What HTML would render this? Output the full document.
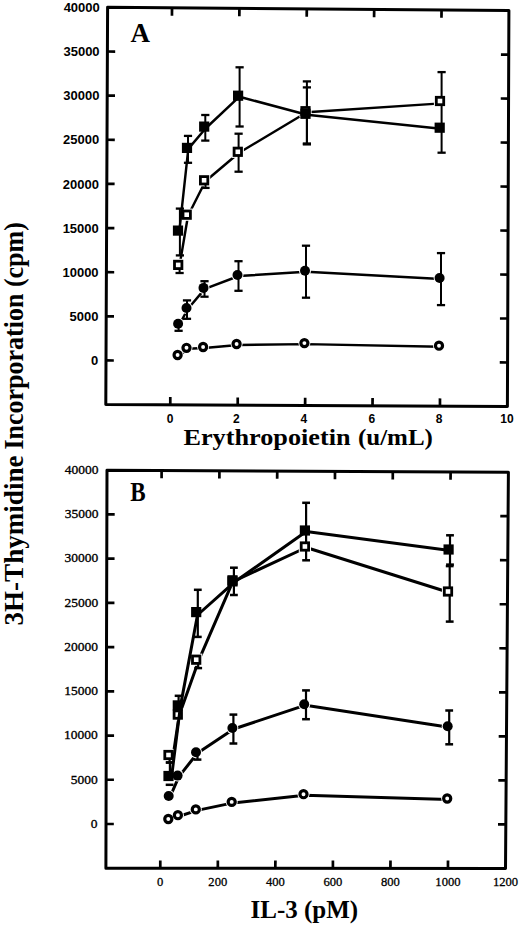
<!DOCTYPE html>
<html><head><meta charset="utf-8"><style>
html,body{margin:0;padding:0;background:#fff;}
svg{display:block;}
.ya{font:bold 13px "Liberation Sans",sans-serif;}
.xa{font:bold 12px "Liberation Sans",sans-serif;}
.yb{font:13.5px "Liberation Serif",serif;stroke:#000;stroke-width:0.35px;}
.xb{font:12.6px "Liberation Serif",serif;stroke:#000;stroke-width:0.3px;}
.t{font-family:"Liberation Serif",serif;font-weight:bold;}
</style></head><body>
<svg width="520" height="928" viewBox="0 0 520 928">
<rect width="520" height="928" fill="#fff"/>
<g stroke="#000" fill="none">
<polygon points="107.60,7.35 508.90,10.60 507.40,406.50 105.80,404.60" fill="none" stroke="#000" stroke-width="3.0" stroke-linejoin="round"/>
<polygon points="107.00,470.20 508.40,472.20 505.50,868.40 105.90,868.20" fill="none" stroke="#000" stroke-width="3.0" stroke-linejoin="round"/>
<line x1="172.01" y1="7.87" x2="171.98" y2="15.67" stroke-width="2.7" stroke-linecap="butt"/>
<line x1="170.26" y1="404.90" x2="170.30" y2="397.11" stroke-width="2.7" stroke-linecap="butt"/>
<line x1="239.39" y1="8.42" x2="239.36" y2="16.22" stroke-width="2.7" stroke-linecap="butt"/>
<line x1="237.69" y1="405.22" x2="237.72" y2="397.42" stroke-width="2.7" stroke-linecap="butt"/>
<line x1="306.77" y1="8.96" x2="306.74" y2="16.76" stroke-width="2.7" stroke-linecap="butt"/>
<line x1="305.12" y1="405.54" x2="305.15" y2="397.74" stroke-width="2.7" stroke-linecap="butt"/>
<line x1="374.15" y1="9.51" x2="374.11" y2="17.31" stroke-width="2.7" stroke-linecap="butt"/>
<line x1="372.54" y1="405.86" x2="372.58" y2="398.06" stroke-width="2.7" stroke-linecap="butt"/>
<line x1="441.52" y1="10.05" x2="441.49" y2="17.85" stroke-width="2.7" stroke-linecap="butt"/>
<line x1="439.97" y1="406.18" x2="440.00" y2="398.38" stroke-width="2.7" stroke-linecap="butt"/>
<line x1="107.40" y1="51.49" x2="115.20" y2="51.55" stroke-width="2.7" stroke-linecap="butt"/>
<line x1="508.73" y1="54.59" x2="500.93" y2="54.53" stroke-width="2.7" stroke-linecap="butt"/>
<line x1="107.20" y1="95.63" x2="115.00" y2="95.69" stroke-width="2.7" stroke-linecap="butt"/>
<line x1="508.57" y1="98.58" x2="500.77" y2="98.52" stroke-width="2.7" stroke-linecap="butt"/>
<line x1="107.00" y1="139.77" x2="114.80" y2="139.82" stroke-width="2.7" stroke-linecap="butt"/>
<line x1="508.40" y1="142.57" x2="500.60" y2="142.51" stroke-width="2.7" stroke-linecap="butt"/>
<line x1="106.80" y1="183.91" x2="114.60" y2="183.96" stroke-width="2.7" stroke-linecap="butt"/>
<line x1="508.23" y1="186.56" x2="500.43" y2="186.50" stroke-width="2.7" stroke-linecap="butt"/>
<line x1="106.60" y1="228.04" x2="114.40" y2="228.09" stroke-width="2.7" stroke-linecap="butt"/>
<line x1="508.07" y1="230.54" x2="500.27" y2="230.50" stroke-width="2.7" stroke-linecap="butt"/>
<line x1="106.40" y1="272.18" x2="114.20" y2="272.23" stroke-width="2.7" stroke-linecap="butt"/>
<line x1="507.90" y1="274.53" x2="500.10" y2="274.49" stroke-width="2.7" stroke-linecap="butt"/>
<line x1="106.20" y1="316.32" x2="114.00" y2="316.36" stroke-width="2.7" stroke-linecap="butt"/>
<line x1="507.73" y1="318.52" x2="499.93" y2="318.48" stroke-width="2.7" stroke-linecap="butt"/>
<line x1="106.00" y1="360.46" x2="113.80" y2="360.50" stroke-width="2.7" stroke-linecap="butt"/>
<line x1="507.57" y1="362.51" x2="499.77" y2="362.47" stroke-width="2.7" stroke-linecap="butt"/>
<line x1="161.62" y1="470.47" x2="161.59" y2="478.27" stroke-width="2.7" stroke-linecap="butt"/>
<line x1="160.27" y1="868.23" x2="160.30" y2="860.43" stroke-width="2.7" stroke-linecap="butt"/>
<line x1="219.42" y1="470.76" x2="219.38" y2="478.56" stroke-width="2.7" stroke-linecap="butt"/>
<line x1="217.81" y1="868.26" x2="217.84" y2="860.46" stroke-width="2.7" stroke-linecap="butt"/>
<line x1="277.21" y1="471.05" x2="277.18" y2="478.85" stroke-width="2.7" stroke-linecap="butt"/>
<line x1="275.35" y1="868.28" x2="275.39" y2="860.48" stroke-width="2.7" stroke-linecap="butt"/>
<line x1="335.01" y1="471.34" x2="334.97" y2="479.14" stroke-width="2.7" stroke-linecap="butt"/>
<line x1="332.89" y1="868.31" x2="332.93" y2="860.51" stroke-width="2.7" stroke-linecap="butt"/>
<line x1="392.81" y1="471.62" x2="392.76" y2="479.42" stroke-width="2.7" stroke-linecap="butt"/>
<line x1="390.42" y1="868.34" x2="390.47" y2="860.54" stroke-width="2.7" stroke-linecap="butt"/>
<line x1="450.60" y1="471.91" x2="450.55" y2="479.71" stroke-width="2.7" stroke-linecap="butt"/>
<line x1="447.96" y1="868.37" x2="448.01" y2="860.57" stroke-width="2.7" stroke-linecap="butt"/>
<line x1="106.88" y1="514.42" x2="114.68" y2="514.46" stroke-width="2.7" stroke-linecap="butt"/>
<line x1="508.08" y1="516.22" x2="500.28" y2="516.19" stroke-width="2.7" stroke-linecap="butt"/>
<line x1="106.76" y1="558.64" x2="114.56" y2="558.68" stroke-width="2.7" stroke-linecap="butt"/>
<line x1="507.76" y1="560.24" x2="499.96" y2="560.21" stroke-width="2.7" stroke-linecap="butt"/>
<line x1="106.63" y1="602.87" x2="114.43" y2="602.89" stroke-width="2.7" stroke-linecap="butt"/>
<line x1="507.43" y1="604.27" x2="499.63" y2="604.24" stroke-width="2.7" stroke-linecap="butt"/>
<line x1="106.51" y1="647.09" x2="114.31" y2="647.11" stroke-width="2.7" stroke-linecap="butt"/>
<line x1="507.11" y1="648.29" x2="499.31" y2="648.27" stroke-width="2.7" stroke-linecap="butt"/>
<line x1="106.39" y1="691.31" x2="114.19" y2="691.33" stroke-width="2.7" stroke-linecap="butt"/>
<line x1="506.79" y1="692.31" x2="498.99" y2="692.29" stroke-width="2.7" stroke-linecap="butt"/>
<line x1="106.27" y1="735.53" x2="114.07" y2="735.55" stroke-width="2.7" stroke-linecap="butt"/>
<line x1="506.47" y1="736.33" x2="498.67" y2="736.32" stroke-width="2.7" stroke-linecap="butt"/>
<line x1="106.14" y1="779.76" x2="113.94" y2="779.77" stroke-width="2.7" stroke-linecap="butt"/>
<line x1="506.14" y1="780.36" x2="498.34" y2="780.34" stroke-width="2.7" stroke-linecap="butt"/>
<line x1="106.02" y1="823.98" x2="113.82" y2="823.99" stroke-width="2.7" stroke-linecap="butt"/>
<line x1="505.82" y1="824.38" x2="498.02" y2="824.37" stroke-width="2.7" stroke-linecap="butt"/>
</g>
<g stroke="#000">
<polyline points="178.90,356.00 187.80,348.80 204.40,348.00 237.90,345.00 305.70,344.10 440.30,346.70" fill="none" stroke="#000" stroke-width="2.45" stroke-linejoin="round"/>
<polyline points="179.40,324.70 187.80,309.00 204.80,288.90 238.80,276.00 306.30,271.80 440.90,279.00" fill="none" stroke="#000" stroke-width="2.45" stroke-linejoin="round"/>
<polyline points="179.50,265.90 188.00,215.70 205.40,181.30 239.10,152.80 306.80,112.20 441.30,103.40" fill="none" stroke="#000" stroke-width="2.45" stroke-linejoin="round"/>
<circle cx="177.60" cy="355.00" r="6.00" fill="#fff" stroke="none"/>
<circle cx="186.50" cy="347.80" r="6.00" fill="#fff" stroke="none"/>
<circle cx="203.10" cy="347.00" r="6.00" fill="#fff" stroke="none"/>
<circle cx="236.60" cy="344.00" r="6.00" fill="#fff" stroke="none"/>
<circle cx="304.40" cy="343.10" r="6.00" fill="#fff" stroke="none"/>
<circle cx="439.00" cy="345.70" r="6.00" fill="#fff" stroke="none"/>
<circle cx="178.10" cy="323.70" r="6.00" fill="#fff" stroke="none"/>
<circle cx="186.50" cy="308.00" r="6.00" fill="#fff" stroke="none"/>
<circle cx="203.50" cy="287.90" r="6.00" fill="#fff" stroke="none"/>
<circle cx="237.50" cy="275.00" r="6.00" fill="#fff" stroke="none"/>
<circle cx="305.00" cy="270.80" r="6.00" fill="#fff" stroke="none"/>
<circle cx="439.60" cy="278.00" r="6.00" fill="#fff" stroke="none"/>
<rect x="172.10" y="258.80" width="12.20" height="12.20" fill="#fff" stroke="none"/>
<rect x="180.60" y="208.60" width="12.20" height="12.20" fill="#fff" stroke="none"/>
<rect x="198.00" y="174.20" width="12.20" height="12.20" fill="#fff" stroke="none"/>
<rect x="231.70" y="145.70" width="12.20" height="12.20" fill="#fff" stroke="none"/>
<rect x="299.40" y="105.10" width="12.20" height="12.20" fill="#fff" stroke="none"/>
<rect x="433.90" y="94.90" width="12.20" height="12.20" fill="#fff" stroke="none"/>
<line x1="179.90" y1="208.60" x2="179.90" y2="255.40" stroke-width="2.0"/>
<line x1="175.80" y1="208.60" x2="184.00" y2="208.60" stroke-width="2.3"/>
<line x1="175.80" y1="255.40" x2="184.00" y2="255.40" stroke-width="2.3"/>
<line x1="179.60" y1="265.00" x2="179.60" y2="273.00" stroke-width="2.0"/>
<line x1="175.50" y1="273.00" x2="183.70" y2="273.00" stroke-width="2.3"/>
<line x1="188.00" y1="135.90" x2="188.00" y2="162.80" stroke-width="2.0"/>
<line x1="183.90" y1="135.90" x2="192.10" y2="135.90" stroke-width="2.3"/>
<line x1="183.90" y1="162.80" x2="192.10" y2="162.80" stroke-width="2.3"/>
<line x1="205.30" y1="115.00" x2="205.30" y2="140.60" stroke-width="2.0"/>
<line x1="201.20" y1="115.00" x2="209.40" y2="115.00" stroke-width="2.3"/>
<line x1="201.20" y1="140.60" x2="209.40" y2="140.60" stroke-width="2.3"/>
<line x1="239.60" y1="67.30" x2="239.60" y2="126.50" stroke-width="2.0"/>
<line x1="235.50" y1="67.30" x2="243.70" y2="67.30" stroke-width="2.3"/>
<line x1="235.50" y1="126.50" x2="243.70" y2="126.50" stroke-width="2.3"/>
<line x1="238.60" y1="133.70" x2="238.60" y2="171.70" stroke-width="2.0"/>
<line x1="234.50" y1="133.70" x2="242.70" y2="133.70" stroke-width="2.3"/>
<line x1="234.50" y1="171.70" x2="242.70" y2="171.70" stroke-width="2.3"/>
<line x1="306.90" y1="81.40" x2="306.90" y2="143.50" stroke-width="2.0"/>
<line x1="302.80" y1="81.40" x2="311.00" y2="81.40" stroke-width="2.3"/>
<line x1="302.80" y1="143.50" x2="311.00" y2="143.50" stroke-width="2.3"/>
<line x1="306.90" y1="87.40" x2="306.90" y2="144.40" stroke-width="2.0"/>
<line x1="302.80" y1="87.40" x2="311.00" y2="87.40" stroke-width="2.3"/>
<line x1="302.80" y1="144.40" x2="311.00" y2="144.40" stroke-width="2.3"/>
<line x1="441.60" y1="72.10" x2="441.60" y2="152.70" stroke-width="2.0"/>
<line x1="437.50" y1="72.10" x2="445.70" y2="72.10" stroke-width="2.3"/>
<line x1="437.50" y1="152.70" x2="445.70" y2="152.70" stroke-width="2.3"/>
<line x1="205.50" y1="180.00" x2="205.50" y2="187.90" stroke-width="2.0"/>
<line x1="201.40" y1="187.90" x2="209.60" y2="187.90" stroke-width="2.3"/>
<line x1="178.60" y1="324.00" x2="178.60" y2="330.80" stroke-width="2.0"/>
<line x1="174.50" y1="330.80" x2="182.70" y2="330.80" stroke-width="2.3"/>
<line x1="187.00" y1="300.40" x2="187.00" y2="318.80" stroke-width="2.0"/>
<line x1="182.90" y1="300.40" x2="191.10" y2="300.40" stroke-width="2.3"/>
<line x1="182.90" y1="318.80" x2="191.10" y2="318.80" stroke-width="2.3"/>
<line x1="204.50" y1="281.20" x2="204.50" y2="296.70" stroke-width="2.0"/>
<line x1="200.40" y1="281.20" x2="208.60" y2="281.20" stroke-width="2.3"/>
<line x1="200.40" y1="296.70" x2="208.60" y2="296.70" stroke-width="2.3"/>
<line x1="238.50" y1="261.20" x2="238.50" y2="290.80" stroke-width="2.0"/>
<line x1="234.40" y1="261.20" x2="242.60" y2="261.20" stroke-width="2.3"/>
<line x1="234.40" y1="290.80" x2="242.60" y2="290.80" stroke-width="2.3"/>
<line x1="306.00" y1="245.70" x2="306.00" y2="297.70" stroke-width="2.0"/>
<line x1="301.90" y1="245.70" x2="310.10" y2="245.70" stroke-width="2.3"/>
<line x1="301.90" y1="297.70" x2="310.10" y2="297.70" stroke-width="2.3"/>
<line x1="441.00" y1="253.10" x2="441.00" y2="305.10" stroke-width="2.0"/>
<line x1="436.90" y1="253.10" x2="445.10" y2="253.10" stroke-width="2.3"/>
<line x1="436.90" y1="305.10" x2="445.10" y2="305.10" stroke-width="2.3"/>
<circle cx="177.60" cy="355.00" r="3.55" fill="#fff" stroke="#000" stroke-width="3.2"/>
<circle cx="186.50" cy="347.80" r="3.55" fill="#fff" stroke="#000" stroke-width="3.2"/>
<circle cx="203.10" cy="347.00" r="3.55" fill="#fff" stroke="#000" stroke-width="3.2"/>
<circle cx="236.60" cy="344.00" r="3.55" fill="#fff" stroke="#000" stroke-width="3.2"/>
<circle cx="304.40" cy="343.10" r="3.55" fill="#fff" stroke="#000" stroke-width="3.2"/>
<circle cx="439.00" cy="345.70" r="3.55" fill="#fff" stroke="#000" stroke-width="3.2"/>
<circle cx="178.10" cy="323.70" r="5.0" fill="#000" stroke="none"/>
<circle cx="186.50" cy="308.00" r="5.0" fill="#000" stroke="none"/>
<circle cx="203.50" cy="287.90" r="5.0" fill="#000" stroke="none"/>
<circle cx="237.50" cy="275.00" r="5.0" fill="#000" stroke="none"/>
<circle cx="305.00" cy="270.80" r="5.0" fill="#000" stroke="none"/>
<circle cx="439.60" cy="278.00" r="5.0" fill="#000" stroke="none"/>
<rect x="174.50" y="261.20" width="7.40" height="7.40" fill="#fff" stroke="#000" stroke-width="2.8"/>
<rect x="183.00" y="211.00" width="7.40" height="7.40" fill="#fff" stroke="#000" stroke-width="2.8"/>
<rect x="200.40" y="176.60" width="7.40" height="7.40" fill="#fff" stroke="#000" stroke-width="2.8"/>
<rect x="234.10" y="148.10" width="7.40" height="7.40" fill="#fff" stroke="#000" stroke-width="2.8"/>
<rect x="301.80" y="107.50" width="7.40" height="7.40" fill="#fff" stroke="#000" stroke-width="2.8"/>
<rect x="436.30" y="97.30" width="7.40" height="7.40" fill="#fff" stroke="#000" stroke-width="2.8"/>
<polyline points="179.30,231.60 188.30,148.90 205.50,128.50 239.40,96.70 306.80,114.80 441.00,128.70" fill="none" stroke="#000" stroke-width="2.45" stroke-linejoin="round"/>
<rect x="172.90" y="225.50" width="10.2" height="10.2" fill="#000" stroke="none"/>
<rect x="181.90" y="142.80" width="10.2" height="10.2" fill="#000" stroke="none"/>
<rect x="199.10" y="121.50" width="10.2" height="10.2" fill="#000" stroke="none"/>
<rect x="233.00" y="90.60" width="10.2" height="10.2" fill="#000" stroke="none"/>
<rect x="300.40" y="108.70" width="10.2" height="10.2" fill="#000" stroke="none"/>
<rect x="434.60" y="122.60" width="10.2" height="10.2" fill="#000" stroke="none"/>
<polyline points="169.60,820.00 179.20,816.20 197.10,810.40 233.00,802.90 304.80,795.20 448.50,799.50" fill="none" stroke="#000" stroke-width="3.0" stroke-linejoin="round"/>
<polyline points="170.00,797.00 178.90,776.60 197.30,753.30 233.70,729.00 305.50,705.20 449.00,727.20" fill="none" stroke="#000" stroke-width="3.0" stroke-linejoin="round"/>
<polyline points="173.20,755.50 179.10,715.60 198.60,660.70 232.80,581.60 306.20,547.50 449.30,592.50" fill="none" stroke="#000" stroke-width="3.0" stroke-linejoin="round"/>
<circle cx="168.30" cy="819.00" r="6.00" fill="#fff" stroke="none"/>
<circle cx="177.90" cy="815.20" r="6.00" fill="#fff" stroke="none"/>
<circle cx="195.80" cy="809.40" r="6.00" fill="#fff" stroke="none"/>
<circle cx="231.70" cy="801.90" r="6.00" fill="#fff" stroke="none"/>
<circle cx="303.50" cy="794.20" r="6.00" fill="#fff" stroke="none"/>
<circle cx="447.20" cy="798.50" r="6.00" fill="#fff" stroke="none"/>
<circle cx="168.70" cy="796.00" r="6.00" fill="#fff" stroke="none"/>
<circle cx="177.60" cy="775.60" r="6.00" fill="#fff" stroke="none"/>
<circle cx="196.00" cy="752.30" r="6.00" fill="#fff" stroke="none"/>
<circle cx="232.40" cy="728.00" r="6.00" fill="#fff" stroke="none"/>
<circle cx="304.20" cy="704.20" r="6.00" fill="#fff" stroke="none"/>
<circle cx="447.70" cy="726.20" r="6.00" fill="#fff" stroke="none"/>
<rect x="162.40" y="748.90" width="12.20" height="12.20" fill="#fff" stroke="none"/>
<rect x="171.70" y="708.50" width="12.20" height="12.20" fill="#fff" stroke="none"/>
<rect x="190.10" y="653.60" width="12.20" height="12.20" fill="#fff" stroke="none"/>
<rect x="226.40" y="574.20" width="12.20" height="12.20" fill="#fff" stroke="none"/>
<rect x="298.80" y="540.40" width="12.20" height="12.20" fill="#fff" stroke="none"/>
<rect x="441.90" y="585.40" width="12.20" height="12.20" fill="#fff" stroke="none"/>
<line x1="169.90" y1="762.50" x2="169.90" y2="771.00" stroke-width="2.2"/>
<line x1="166.00" y1="762.50" x2="173.80" y2="762.50" stroke-width="2.5"/>
<line x1="165.70" y1="784.80" x2="173.50" y2="784.80" stroke-width="2.5"/>
<line x1="169.60" y1="755.00" x2="169.60" y2="762.50" stroke-width="2.2"/>
<line x1="165.70" y1="762.50" x2="173.50" y2="762.50" stroke-width="2.5"/>
<line x1="178.60" y1="695.80" x2="178.60" y2="705.00" stroke-width="2.2"/>
<line x1="174.70" y1="695.80" x2="182.50" y2="695.80" stroke-width="2.5"/>
<line x1="197.80" y1="589.80" x2="197.80" y2="636.90" stroke-width="2.2"/>
<line x1="193.90" y1="589.80" x2="201.70" y2="589.80" stroke-width="2.5"/>
<line x1="193.90" y1="636.90" x2="201.70" y2="636.90" stroke-width="2.5"/>
<line x1="198.20" y1="660.00" x2="198.20" y2="668.10" stroke-width="2.2"/>
<line x1="194.30" y1="668.10" x2="202.10" y2="668.10" stroke-width="2.5"/>
<line x1="233.90" y1="567.70" x2="233.90" y2="595.00" stroke-width="2.2"/>
<line x1="230.00" y1="567.70" x2="237.80" y2="567.70" stroke-width="2.5"/>
<line x1="230.00" y1="595.00" x2="237.80" y2="595.00" stroke-width="2.5"/>
<line x1="306.10" y1="502.80" x2="306.10" y2="560.30" stroke-width="2.2"/>
<line x1="302.20" y1="502.80" x2="310.00" y2="502.80" stroke-width="2.5"/>
<line x1="302.20" y1="560.30" x2="310.00" y2="560.30" stroke-width="2.5"/>
<line x1="450.00" y1="535.30" x2="450.00" y2="564.60" stroke-width="2.2"/>
<line x1="446.10" y1="535.30" x2="453.90" y2="535.30" stroke-width="2.5"/>
<line x1="446.10" y1="564.60" x2="453.90" y2="564.60" stroke-width="2.5"/>
<line x1="449.70" y1="566.10" x2="449.70" y2="621.60" stroke-width="2.2"/>
<line x1="445.80" y1="566.10" x2="453.60" y2="566.10" stroke-width="2.5"/>
<line x1="445.80" y1="621.60" x2="453.60" y2="621.60" stroke-width="2.5"/>
<line x1="197.50" y1="752.00" x2="197.50" y2="759.60" stroke-width="2.2"/>
<line x1="193.60" y1="759.60" x2="201.40" y2="759.60" stroke-width="2.5"/>
<line x1="233.40" y1="714.60" x2="233.40" y2="743.50" stroke-width="2.2"/>
<line x1="229.50" y1="714.60" x2="237.30" y2="714.60" stroke-width="2.5"/>
<line x1="229.50" y1="743.50" x2="237.30" y2="743.50" stroke-width="2.5"/>
<line x1="306.00" y1="690.40" x2="306.00" y2="719.20" stroke-width="2.2"/>
<line x1="302.10" y1="690.40" x2="309.90" y2="690.40" stroke-width="2.5"/>
<line x1="302.10" y1="719.20" x2="309.90" y2="719.20" stroke-width="2.5"/>
<line x1="449.20" y1="710.50" x2="449.20" y2="744.30" stroke-width="2.2"/>
<line x1="445.30" y1="710.50" x2="453.10" y2="710.50" stroke-width="2.5"/>
<line x1="445.30" y1="744.30" x2="453.10" y2="744.30" stroke-width="2.5"/>
<circle cx="168.30" cy="819.00" r="3.55" fill="#fff" stroke="#000" stroke-width="3.2"/>
<circle cx="177.90" cy="815.20" r="3.55" fill="#fff" stroke="#000" stroke-width="3.2"/>
<circle cx="195.80" cy="809.40" r="3.55" fill="#fff" stroke="#000" stroke-width="3.2"/>
<circle cx="231.70" cy="801.90" r="3.55" fill="#fff" stroke="#000" stroke-width="3.2"/>
<circle cx="303.50" cy="794.20" r="3.55" fill="#fff" stroke="#000" stroke-width="3.2"/>
<circle cx="447.20" cy="798.50" r="3.55" fill="#fff" stroke="#000" stroke-width="3.2"/>
<circle cx="168.70" cy="796.00" r="5.0" fill="#000" stroke="none"/>
<circle cx="177.60" cy="775.60" r="5.0" fill="#000" stroke="none"/>
<circle cx="196.00" cy="752.30" r="5.0" fill="#000" stroke="none"/>
<circle cx="232.40" cy="728.00" r="5.0" fill="#000" stroke="none"/>
<circle cx="304.20" cy="704.20" r="5.0" fill="#000" stroke="none"/>
<circle cx="447.70" cy="726.20" r="5.0" fill="#000" stroke="none"/>
<rect x="164.80" y="751.30" width="7.40" height="7.40" fill="#fff" stroke="#000" stroke-width="2.8"/>
<rect x="174.10" y="710.90" width="7.40" height="7.40" fill="#fff" stroke="#000" stroke-width="2.8"/>
<rect x="192.50" y="656.00" width="7.40" height="7.40" fill="#fff" stroke="#000" stroke-width="2.8"/>
<rect x="228.80" y="576.60" width="7.40" height="7.40" fill="#fff" stroke="#000" stroke-width="2.8"/>
<rect x="301.20" y="542.80" width="7.40" height="7.40" fill="#fff" stroke="#000" stroke-width="2.8"/>
<rect x="444.30" y="587.80" width="7.40" height="7.40" fill="#fff" stroke="#000" stroke-width="2.8"/>
<polyline points="171.60,776.50 180.40,706.40 197.50,615.00 233.80,582.60 306.20,531.50 449.90,550.50" fill="none" stroke="#000" stroke-width="3.0" stroke-linejoin="round"/>
<rect x="163.40" y="770.90" width="10.2" height="10.2" fill="#000" stroke="none"/>
<rect x="172.70" y="700.30" width="10.2" height="10.2" fill="#000" stroke="none"/>
<rect x="191.10" y="607.00" width="10.2" height="10.2" fill="#000" stroke="none"/>
<rect x="227.40" y="576.30" width="10.2" height="10.2" fill="#000" stroke="none"/>
<rect x="299.80" y="525.40" width="10.2" height="10.2" fill="#000" stroke="none"/>
<rect x="443.50" y="544.40" width="10.2" height="10.2" fill="#000" stroke="none"/>
</g>
<g fill="#000">
<text x="99.80" y="12.05" text-anchor="end" class="ya">40000</text>
<text x="99.60" y="56.19" text-anchor="end" class="ya">35000</text>
<text x="99.40" y="100.33" text-anchor="end" class="ya">30000</text>
<text x="99.20" y="144.47" text-anchor="end" class="ya">25000</text>
<text x="99.00" y="188.61" text-anchor="end" class="ya">20000</text>
<text x="98.81" y="232.74" text-anchor="end" class="ya">15000</text>
<text x="98.61" y="276.88" text-anchor="end" class="ya">10000</text>
<text x="98.41" y="321.02" text-anchor="end" class="ya">5000</text>
<text x="98.21" y="365.16" text-anchor="end" class="ya">0</text>
<text x="170.06" y="423.4" text-anchor="middle" class="xa">0</text>
<text x="236.39" y="423.4" text-anchor="middle" class="xa">2</text>
<text x="303.82" y="423.4" text-anchor="middle" class="xa">4</text>
<text x="371.94" y="423.4" text-anchor="middle" class="xa">6</text>
<text x="439.07" y="423.4" text-anchor="middle" class="xa">8</text>
<text x="506.90" y="423.4" text-anchor="middle" class="xa">10</text>
<text x="98.50" y="474.00" text-anchor="end" class="yb">40000</text>
<text x="98.38" y="518.22" text-anchor="end" class="yb">35000</text>
<text x="98.25" y="562.44" text-anchor="end" class="yb">30000</text>
<text x="98.13" y="606.67" text-anchor="end" class="yb">25000</text>
<text x="98.00" y="650.89" text-anchor="end" class="yb">20000</text>
<text x="97.88" y="695.11" text-anchor="end" class="yb">15000</text>
<text x="97.76" y="739.33" text-anchor="end" class="yb">10000</text>
<text x="97.63" y="783.56" text-anchor="end" class="yb">5000</text>
<text x="97.51" y="827.78" text-anchor="end" class="yb">0</text>
<text x="160.27" y="885.8" text-anchor="middle" class="xb">0</text>
<text x="217.81" y="885.8" text-anchor="middle" class="xb">200</text>
<text x="275.35" y="885.8" text-anchor="middle" class="xb">400</text>
<text x="332.89" y="885.8" text-anchor="middle" class="xb">600</text>
<text x="390.42" y="885.8" text-anchor="middle" class="xb">800</text>
<text x="447.96" y="885.8" text-anchor="middle" class="xb">1000</text>
<text x="505.50" y="885.8" text-anchor="middle" class="xb">1200</text>
<text class="t" x="130.6" y="42.2" font-size="27">A</text>
<text class="t" x="0" y="0" font-size="26.5" transform="translate(130.2 501.2) scale(0.87 1)">B</text>
<text class="t" x="0" y="0" font-size="23.5" transform="translate(183.4 445) scale(1.117 1)">Erythropoietin</text>
<text class="t" x="0" y="0" font-size="23.5" transform="translate(357.9 445) scale(1.065 1)">(u/mL)</text>
<text class="t" x="250.5" y="918.2" font-size="25">IL-3 (pM)</text>
<text class="t" x="0" y="0" font-size="26.5" transform="translate(22.6 625.5) rotate(-90) scale(1.022 1)">3H-Thymidine</text>
<text class="t" x="0" y="0" font-size="26.5" transform="translate(22.6 449.5) rotate(-90) scale(0.981 1)">Incorporation (cpm)</text>
</g>
</svg>
</body></html>
